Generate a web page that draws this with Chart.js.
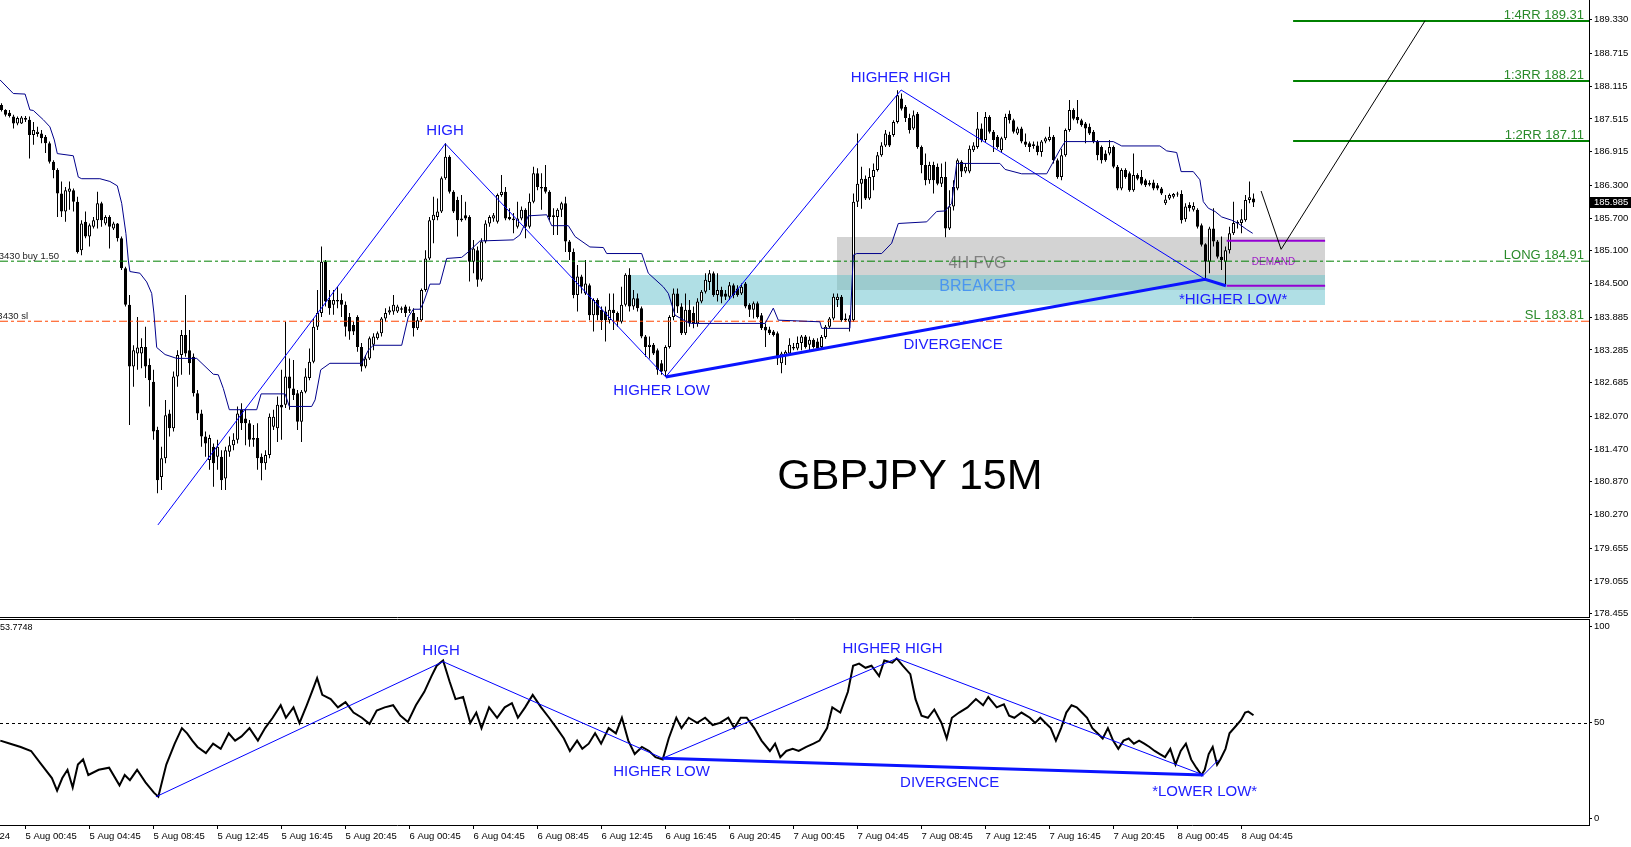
<!DOCTYPE html>
<html>
<head>
<meta charset="utf-8">
<title>GBPJPY 15M</title>
<script src="https://cdn.jsdelivr.net/npm/chart.js@4.4.1/dist/chart.umd.min.js"></script>
<style>
  html, body { margin: 0; padding: 0; background: #fff; overflow: hidden; }
  #wrap { position: relative; width: 1631px; height: 847px; }
  #main { position: absolute; left: 0; top: 0; }
  #osc { position: absolute; left: 0; top: 618px; }
</style>
</head>
<body>
<div id="wrap">
  <canvas id="main" width="1631" height="626"></canvas>
  <canvas id="osc" width="1631" height="229"></canvas>
</div>
<script>
// 15 minute candles, bar 0 = 4 Aug 23:15, one entry per bar
const openP = [
  187.77,187.68,187.63,187.56,187.43,187.43,187.50,187.50,187.22,187.24,
  187.25,187.19,187.07,186.73,186.58,186.15,185.82,186.18,186.21,186.00,
  185.11,185.63,185.36,185.54,185.66,185.97,185.60,185.72,185.51,185.60,
  185.33,184.78,184.11,182.98,183.22,183.22,183.34,183.01,182.70,181.82,
  180.96,181.30,182.12,181.85,182.80,183.19,183.56,183.28,183.16,182.49,
  182.12,181.70,181.27,181.51,181.33,181.33,180.93,181.42,181.54,181.64,
  182.19,182.03,181.94,181.67,181.67,181.33,181.21,181.36,181.88,181.85,
  182.28,182.28,182.80,182.58,182.49,181.97,182.52,182.77,183.07,183.71,
  183.96,184.90,184.20,184.11,184.17,184.20,184.11,183.89,183.74,183.89,
  183.34,182.98,183.13,183.38,183.50,183.59,183.86,183.97,183.99,183.99,
  184.02,184.08,184.03,183.96,183.68,183.83,184.38,184.96,185.66,185.72,
  185.82,186.43,186.82,186.18,186.03,185.66,185.75,185.72,184.90,185.11,
  184.57,185.27,185.60,185.69,185.63,186.12,186.18,185.72,185.69,185.54,
  185.69,185.85,185.54,186.00,186.52,186.27,186.27,186.18,185.72,185.72,
  185.85,185.97,185.27,185.08,184.29,184.63,184.32,184.47,183.92,184.20,
  184.02,183.99,183.83,184.02,183.96,183.80,184.11,184.66,184.08,184.23,
  184.05,183.53,183.34,183.38,183.28,183.04,182.89,183.34,183.89,184.32,
  184.08,183.59,184.02,183.96,183.77,184.17,184.35,184.53,184.69,184.29,
  184.38,184.32,184.26,184.47,184.41,184.32,184.50,184.11,184.02,184.14,
  183.92,183.71,183.66,183.62,183.59,183.04,183.19,183.22,183.34,183.31,
  183.41,183.53,183.38,183.47,183.44,183.34,183.52,183.71,183.86,184.20,
  184.26,183.83,183.80,183.83,186.00,186.33,186.42,186.06,186.45,186.58,
  186.85,187.03,187.22,187.22,187.46,187.89,187.74,187.53,187.34,187.61,
  187.00,186.67,186.39,186.67,186.64,186.33,186.45,185.51,185.91,186.24,
  186.73,186.55,186.55,186.94,187.00,187.34,187.13,187.55,187.28,187.19,
  186.94,187.16,187.61,187.49,187.25,187.34,187.10,187.07,187.05,187.03,
  186.91,187.10,187.13,187.19,186.76,186.45,186.85,187.31,187.68,187.55,
  187.49,187.43,187.37,187.28,187.10,187.00,186.88,186.88,187.00,186.64,
  186.24,186.58,186.52,186.21,186.49,186.45,186.39,186.34,186.35,186.30,
  186.24,185.97,186.06,186.09,186.13,186.14,185.68,185.94,185.85,185.85,
  185.57,185.22,184.90,185.51,185.27,184.99,184.90,185.11,185.42,185.60,
  185.61,185.66,186.03,186.06
];
const highP = [
  187.80,187.69,187.68,187.59,187.56,187.57,187.57,187.56,187.46,187.37,
  187.31,187.22,187.10,186.76,186.61,186.37,186.27,186.37,186.24,186.09,
  185.66,185.82,185.60,185.72,186.18,186.00,185.75,185.75,185.63,185.61,
  185.36,184.81,184.29,183.37,183.89,183.50,183.71,183.13,182.92,181.88,
  181.51,182.37,182.19,182.89,183.28,183.65,184.29,183.65,183.22,182.55,
  182.19,181.79,181.73,181.57,181.64,181.45,181.51,181.70,181.76,182.25,
  182.31,182.19,182.00,181.91,181.94,181.39,181.45,182.12,182.19,182.43,
  182.92,183.80,183.13,183.10,182.55,182.55,182.95,183.31,183.86,184.38,
  185.18,184.93,184.38,184.38,184.44,184.32,184.17,183.96,183.80,183.92,
  183.41,183.19,183.53,183.59,183.62,183.89,184.05,184.08,184.29,184.11,
  184.08,184.11,184.08,184.05,183.89,184.41,185.11,185.72,186.09,186.06,
  186.46,187.07,186.85,186.21,186.09,186.12,186.00,185.75,185.30,185.18,
  185.33,185.66,185.75,185.79,186.15,186.49,186.27,185.88,185.79,186.00,
  185.91,185.88,186.15,186.64,186.61,186.52,186.67,186.21,185.88,185.88,
  186.00,186.09,185.30,185.14,184.84,184.66,184.93,184.50,184.23,184.23,
  184.08,184.08,184.32,184.32,183.99,184.44,184.69,184.78,184.38,184.32,
  184.08,183.56,183.53,183.41,183.31,183.10,183.37,183.92,184.41,184.41,
  184.14,184.32,184.20,184.08,184.23,184.38,184.69,184.75,184.72,184.69,
  184.44,184.38,184.53,184.50,184.47,184.50,184.53,184.14,184.17,184.17,
  183.96,183.77,183.71,183.65,183.62,183.25,183.28,183.50,183.41,183.53,
  183.56,183.56,183.53,183.50,183.50,183.56,183.74,183.89,184.32,184.32,
  184.29,183.95,183.92,186.15,187.25,186.64,186.48,186.61,186.70,186.91,
  187.09,187.31,187.28,187.49,188.04,187.98,187.77,187.61,187.67,187.64,
  187.03,186.88,186.73,186.73,186.70,186.70,186.73,186.21,186.39,186.79,
  186.76,186.70,187.03,187.09,187.64,187.43,187.64,187.58,187.31,187.22,
  187.19,187.61,187.67,187.52,187.37,187.37,187.25,187.10,187.10,187.10,
  187.13,187.19,187.37,187.22,186.79,186.97,187.34,187.86,187.71,187.86,
  187.52,187.46,187.43,187.31,187.13,187.03,186.94,187.13,187.03,186.67,
  186.61,186.61,186.55,186.88,186.52,186.58,186.42,186.39,186.40,186.34,
  186.27,186.12,186.15,186.16,186.18,186.21,185.97,185.99,185.99,185.88,
  185.60,185.24,185.54,185.88,185.30,185.36,185.18,185.54,186.00,185.66,
  185.86,186.12,186.37,186.15
];
const lowP = [
  187.65,187.56,187.54,187.34,187.40,187.42,187.46,186.79,187.04,187.19,
  187.07,186.89,186.70,186.43,185.72,185.72,185.63,185.85,185.82,185.05,
  185.02,185.33,185.18,185.51,185.51,185.54,185.57,185.14,185.48,185.27,
  184.75,184.08,181.91,182.61,182.92,182.95,182.77,182.25,181.64,180.66,
  180.72,181.21,181.70,181.79,182.61,182.83,183.16,182.83,182.43,182.00,
  181.51,181.33,181.09,180.78,181.09,180.72,180.72,181.33,181.45,181.57,
  181.82,181.54,181.51,181.51,181.09,180.90,181.09,181.30,181.82,181.60,
  181.64,182.22,182.19,182.37,181.82,181.60,182.49,182.73,183.04,183.65,
  183.89,184.08,183.93,183.93,184.05,183.89,183.53,183.47,183.56,183.25,
  182.89,182.95,183.10,183.28,183.47,183.53,183.80,183.93,183.93,183.96,
  183.96,183.89,183.96,183.53,183.65,183.80,184.35,184.93,185.24,185.66,
  185.79,186.40,186.15,185.79,185.36,185.63,185.66,184.54,184.69,184.44,
  184.54,185.24,185.54,185.63,185.60,186.09,185.66,185.66,185.42,185.51,
  185.66,185.33,185.51,185.97,186.21,185.85,186.15,185.66,185.39,185.39,
  185.72,185.08,184.93,184.23,183.99,184.32,184.29,183.83,183.62,183.83,
  183.65,183.44,183.77,183.65,183.71,183.77,184.08,183.99,184.02,183.99,
  183.50,183.16,183.13,183.19,182.83,182.83,182.80,183.31,183.83,183.96,
  183.56,183.56,183.71,183.68,183.71,184.14,184.32,184.38,184.26,184.17,
  184.14,184.20,184.20,184.23,184.26,184.29,184.05,183.89,183.86,183.86,
  183.65,183.34,183.56,183.53,183.01,182.86,183.01,183.19,183.28,183.28,
  183.28,183.31,183.28,183.31,183.28,183.31,183.49,183.68,183.83,184.07,
  183.80,183.80,183.62,183.80,185.90,185.87,186.03,186.03,186.21,186.55,
  186.82,187.00,187.00,187.19,187.43,187.67,187.46,187.25,187.31,186.97,
  186.52,186.30,186.33,186.15,186.30,186.27,185.35,185.48,185.84,186.21,
  186.45,186.52,186.52,186.91,186.97,187.09,187.09,187.25,186.91,186.97,
  186.91,187.13,187.43,187.25,187.22,187.07,187.00,186.91,186.97,186.85,
  186.82,187.07,187.10,186.70,186.42,186.39,186.82,187.28,187.49,187.43,
  187.37,187.07,187.22,187.07,186.76,186.70,186.73,186.85,186.61,186.21,
  186.21,186.42,186.18,186.18,186.39,186.30,186.27,186.28,186.21,186.21,
  186.12,185.94,186.03,186.06,186.09,185.60,185.63,185.82,185.82,185.51,
  185.18,184.59,184.69,185.18,184.96,184.75,184.46,185.05,185.39,185.51,
  185.42,185.63,185.97,185.90
];
const closeP = [
  187.68,187.59,187.57,187.43,187.53,187.54,187.53,187.22,187.31,187.28,
  187.16,187.07,186.73,186.58,186.15,185.82,186.21,186.24,186.00,185.08,
  185.60,185.36,185.57,185.66,185.97,185.66,185.72,185.54,185.60,185.33,
  184.78,184.11,182.98,183.28,183.33,183.34,182.98,182.73,181.79,180.90,
  181.30,182.09,181.85,182.80,183.19,183.56,183.22,183.04,182.49,182.12,
  181.70,181.57,181.67,181.21,181.51,180.90,181.45,181.54,181.64,182.12,
  181.94,181.94,181.64,181.64,181.30,181.21,181.36,182.06,182.06,182.28,
  182.23,182.80,182.58,182.46,181.97,182.52,182.80,183.07,183.71,183.96,
  184.90,184.17,184.05,184.20,184.20,184.11,183.71,183.62,183.62,183.34,
  182.98,183.13,183.50,183.53,183.59,183.86,183.96,184.01,184.11,184.08,
  184.05,183.96,184.00,183.68,183.83,184.38,184.96,185.66,185.76,185.82,
  186.43,186.82,186.18,185.82,185.66,185.69,185.69,184.90,185.14,184.57,
  185.27,185.60,185.72,185.75,186.12,186.18,185.69,185.68,185.66,185.69,
  185.85,185.54,186.00,186.52,186.27,186.24,186.18,185.72,185.75,185.85,
  185.97,185.27,185.08,184.29,184.63,184.44,184.50,183.92,184.20,183.92,
  183.83,183.83,184.02,183.96,183.80,184.11,184.66,184.08,184.23,184.05,
  183.53,183.34,183.38,183.22,182.92,182.89,183.34,183.89,184.32,184.08,
  183.59,184.02,183.77,183.77,184.17,184.35,184.57,184.69,184.29,184.38,
  184.26,184.26,184.47,184.29,184.29,184.44,184.08,184.02,184.14,183.89,
  183.68,183.64,183.59,183.56,183.13,183.22,183.25,183.38,183.31,183.41,
  183.53,183.34,183.47,183.34,183.31,183.52,183.71,183.86,184.26,184.26,
  183.83,183.86,183.86,186.00,186.33,186.42,186.06,186.45,186.58,186.85,
  187.03,187.25,187.03,187.46,187.95,187.70,187.53,187.31,187.58,187.00,
  186.67,186.39,186.67,186.39,186.33,186.45,185.51,185.91,186.27,186.76,
  186.55,186.64,186.97,187.03,187.34,187.13,187.55,187.28,187.13,187.00,
  187.16,187.55,187.49,187.28,187.34,187.10,187.04,187.00,187.02,186.91,
  187.10,187.16,187.19,186.76,186.45,186.85,187.31,187.68,187.52,187.49,
  187.40,187.34,187.25,187.10,186.85,186.76,186.76,187.00,186.64,186.24,
  186.58,186.45,186.21,186.49,186.42,186.33,186.30,186.31,186.24,186.24,
  186.15,186.04,186.12,186.14,186.14,185.66,185.91,185.88,185.92,185.54,
  185.21,184.90,185.51,185.27,184.99,184.93,185.11,185.42,185.61,185.63,
  185.68,186.03,186.08,185.985
];

// navy trailing line on the price chart (bar, price)
const stopBars = [
  -0.375,2.95,5.9,7.1,7.95,10.45,12.1,13.2,13.95,17.95,19.2,20.05,24.6,27.1,28.95,30.05,31.1,31.7,32.1,34.6,
  36.3,37.55,38.1,38.8,40.9,43.8,48.8,52.95,54.2,55.45,56.95,63.8,64.9,70.9,71.95,77.55,78.4,79.8,82.1,90.05,
  91.7,92.95,100.05,101.7,102.95,104.6,105.45,107.1,109.6,111.3,115.05,116.7,119.6,127.95,129.6,130.9,131.7,136.3,137.55,141.7,
  143.4,147.1,150.45,151.3,160.05,161.7,165.45,166.7,168.4,171.3,172.55,190.9,192.95,194.2,204.6,205.05,212.1,212.95,213.8,220.05,
  222.55,224.2,231.3,233.8,235.9,237.55,238.8,249.6,250.9,255.05,261.3,262.95,264.6,265.9,277.95,280.05,289.6,291.3,293.8,294.9,
  297.95,299.6,300.45,301.7,303.4,305.05,307.55,309.2,311.3,312.8
];
const stopPrices = [
  188.23,187.98,187.97,187.68,187.67,187.50,187.37,187.13,186.88,186.84,186.45,186.42,186.42,186.37,186.29,185.97,185.42,184.93,184.72,184.69,
  184.53,184.32,183.96,183.33,183.20,183.13,183.13,182.84,182.83,182.58,182.19,182.19,182.48,182.48,182.25,182.25,182.37,182.92,183.04,183.04,
  183.28,183.37,183.37,183.89,184.03,184.03,184.14,184.49,184.49,184.96,184.98,185.08,185.28,185.30,185.39,185.60,185.74,185.76,185.56,185.56,
  185.36,185.17,185.16,185.05,185.05,184.69,184.44,184.32,183.92,183.80,183.77,183.77,184.05,183.83,183.80,183.68,183.68,185.02,185.05,185.05,
  185.24,185.60,185.63,185.82,185.83,185.97,186.70,186.70,186.59,186.51,186.51,186.73,186.95,187.10,187.10,187.02,187.02,186.93,186.90,186.55,
  186.55,186.40,186.00,185.88,185.82,185.72,185.66,185.60,185.49,185.42
];

// hand drawn swing lines on price
const zigBars = [39.1, 110.95, 166.05, 224.9, 300.9];
const zigPrices = [180.08, 187.06, 182.79, 188.045, 184.578];
const divBars = [166.05, 300.9, 306.1];
const divPrices = [182.79, 184.578, 184.46];
const projBars = [314.9, 319.9, 355.9];
const projPrices = [186.195, 185.127, 189.313];

// zones and trade levels
const fvgBars = [208.9, 330.9];
const fvgPrices = [185.353, 184.382];
const breakerBars = [157.1, 330.9];
const breakerPrices = [184.657, 184.107];
const demandBars = [306.3, 330.9];
const demandPrices = [185.285, 184.461];
const rrNames = ['1:4RR 189.31', '1:3RR 188.21', '1:2RR 187.11'];
const rrPrices = [189.31, 188.21, 187.11];
const rrStartBar = 322.9;
const longPrice = 184.91;
const slPrice = 183.81;
const lastPrice = 185.985;

const priceTicks = [189.330,188.715,188.115,187.515,186.915,186.300,185.700,185.100,184.500,183.885,
                    183.285,182.685,182.070,181.470,180.870,180.270,179.655,179.055,178.455];

// labels on the price chart: text, bar, price
const priceNotes = [
  ['HIGH', 110.9, 187.29],
  ['HIGHER LOW', 165, 182.53],
  ['HIGHER HIGH', 224.8, 188.26],
  ['DIVERGENCE', 237.9, 183.38],
  ['*HIGHER LOW*', 307.9, 184.20]
];
// zone captions: text, bar, price
const zoneNotes = [
  ['4H FVG', 244, 184.86],
  ['BREAKER', 244, 184.44],
  ['DEMAND', 318, 184.89]
];

// RSI line (bar, value)
const rsiBars = [
  -0.3,2.2,4.8,7.4,10.0,12.6,13.9,15.2,16.5,17.8,19.1,20.4,21.7,24.3,26.9,29.5,30.8,32.1,33.9,36.0,
  38.1,39.2,41.2,43.3,45.1,46.4,47.7,49.0,51.1,52.9,54.8,56.8,58.4,60.0,62.0,64.1,65.9,67.8,69.8,71.1,
  73.0,74.5,76.3,77.6,78.9,80.2,82.3,84.1,86.0,88.0,90.1,92.0,93.8,95.8,97.9,99.7,101.6,103.6,105.7,107.5,
  108.8,110.4,112.0,113.5,115.4,117.2,118.7,120.0,121.9,123.9,125.8,127.6,129.1,130.9,132.8,134.9,136.9,138.8,140.6,142.1,
  143.9,145.2,146.8,148.4,149.9,151.8,153.6,155.1,156.7,158.3,160.1,161.9,163.5,165.3,166.8,168.7,170.0,171.8,173.9,175.9,
  177.8,179.6,181.7,183.2,184.8,186.3,188.2,190.0,192.1,193.4,194.7,196.2,197.8,199.3,201.2,203.0,204.5,206.4,207.7,209.7,
  211.6,212.9,214.4,216.0,217.5,219.4,220.7,222.7,223.8,225.3,227.2,228.5,230.0,231.6,233.2,235.0,236.3,237.6,239.4,241.5,
  243.6,245.4,246.7,248.8,250.6,251.9,253.2,255.0,257.1,258.4,259.7,261.0,262.3,263.6,264.9,266.2,267.5,268.8,270.1,271.4,
  272.7,274.0,275.3,276.6,277.9,279.2,280.5,281.8,283.1,284.4,285.7,287.0,288.3,289.6,290.9,292.2,293.5,294.8,296.1,297.4,
  298.7,300.0,300.8,301.8,302.8,303.9,304.7,306.0,307.0,308.6,309.9,310.9,311.7,313.0
];
const rsiVals = [
  40.6,39.0,37.3,35.2,28.1,21.1,14.6,21.1,25.4,16.2,28.1,30.8,22.7,25.4,26.5,17.3,22.7,20.0,25.4,18.9,
  13.5,11.4,28.1,39.0,47.1,44.4,40.6,37.3,34.1,39.0,36.3,44.4,40.6,42.8,47.1,40.6,47.1,52.5,59.0,52.5,
  57.9,49.8,59.0,66.0,73.1,64.4,62.2,57.9,60.6,55.2,52.5,49.3,56.3,57.9,59.0,53.6,50.3,59.0,66.0,74.2,
  79.6,82.3,71.5,62.2,63.3,49.8,55.2,47.1,57.9,52.5,57.9,60.1,52.5,57.9,64.4,57.9,52.5,47.1,41.7,35.2,
  40.6,36.3,39.0,44.4,39.0,47.1,44.4,52.5,40.6,33.6,37.3,35.2,32.0,30.8,41.7,52.5,47.1,52.5,49.8,52.5,
  48.7,49.8,52.5,47.1,52.5,52.5,47.1,40.6,35.2,39.0,32.0,35.2,36.3,35.2,37.3,39.0,40.6,47.1,57.9,55.2,
  66.0,79.6,80.7,78.5,79.6,74.2,82.3,81.2,83.4,79.6,75.2,62.2,53.6,52.5,56.8,49.8,41.7,52.5,55.2,57.9,
  62.2,59.0,63.3,57.9,59.5,53.6,52.5,55.2,52.5,49.8,52.5,49.8,47.1,40.6,47.1,55.2,59.0,57.9,55.2,52.5,
  47.1,44.4,41.7,47.1,40.6,36.3,40.6,41.7,39.0,40.6,39.0,37.3,35.2,33.6,32.0,36.3,28.1,35.2,39.0,30.8,
  26.5,22.7,25.4,33.6,37.3,28.1,30.8,36.3,44.4,48.2,51.4,55.2,55.7,53.7748
];
const rsiZigBars = [38.6, 110.4, 165.3, 223.8, 300.5];
const rsiZigVals = [11.35, 81.7, 31.4, 83.4, 22.7];
const rsiDivBars = [165.3, 300.5];
const rsiDivVals = [31.4, 22.7];
const rsiTailBars = [300.5, 304.3];
const rsiTailVals = [22.7, 30.7];
const rsiNotes = [
  ['HIGH', 109.9, 87.2],
  ['HIGHER HIGH', 222.75, 88.3],
  ['HIGHER LOW', 165, 24.3],
  ['DIVERGENCE', 237.05, 18.5],
  ['*LOWER LOW*', 300.8, 14.1]
];

// time axis, one label every 16 bars starting at 4 Aug 20:45
const timeLabels = ['4 Aug 2024','5 Aug 00:45','5 Aug 04:45','5 Aug 08:45','5 Aug 12:45','5 Aug 16:45',
  '5 Aug 20:45','6 Aug 00:45','6 Aug 04:45','6 Aug 08:45','6 Aug 12:45','6 Aug 16:45','6 Aug 20:45',
  '7 Aug 00:45','7 Aug 04:45','7 Aug 08:45','7 Aug 12:45','7 Aug 16:45','7 Aug 20:45','8 Aug 00:45','8 Aug 04:45'];
const firstTickBar = -10;
const barsPerTick = 16;

const X_MIN = -0.375, X_MAX = 396.875;
const PRICE_MAX = 189.6926, PRICE_MIN = 178.3943;
const RSI_MAX = 103.904, RSI_MIN = -3.332;
const FONT = '"Liberation Sans", Arial, sans-serif';
const BLUE_TEXT = '#2020ff';

function pts(xs, ys) {
  return xs.map((x, i) => ({x: x, y: ys[i]}));
}

function lineSet(xs, ys, color, width, dash) {
  return {
    type: 'line', data: pts(xs, ys), borderColor: color, borderWidth: width,
    borderDash: dash || [], pointRadius: 0, tension: 0, fill: false, order: 1
  };
}

const wickData = openP.map((o, i) => ({x: i, y: [lowP[i], highP[i]]}));
const bodyData = openP.map((o, i) => ({x: i, y: [Math.min(o, closeP[i]), Math.max(o, closeP[i])]}));
const bodyColors = openP.map((o, i) => closeP[i] >= o ? '#ffffff' : '#000000');

function noPad(s) {
  s.paddingTop = 0; s.paddingBottom = 0; s.paddingLeft = 0; s.paddingRight = 0;
}

// zones, texts and frame of the price panel
const mainDeco = {
  id: 'mainDeco',
  beforeDatasetsDraw(chart) {
    const {ctx, chartArea: a, scales: {x, y}} = chart;
    ctx.save();
    ctx.beginPath(); ctx.rect(a.left, a.top, a.width, a.height); ctx.clip();
    const box = (bars, prices, color) => {
      const x0 = Math.round(x.getPixelForValue(bars[0])), x1 = Math.round(x.getPixelForValue(bars[1]));
      const y0 = Math.round(y.getPixelForValue(prices[0])), y1 = Math.round(y.getPixelForValue(prices[1]));
      ctx.fillStyle = color;
      ctx.fillRect(x0, y0, x1 - x0, y1 - y0);
    };
    box(breakerBars, breakerPrices, '#b0dfe5');
    box(fvgBars, fvgPrices, '#d3d3d3');
    box(fvgBars, [breakerPrices[0], fvgPrices[1]], '#9ccbce');

    ctx.textAlign = 'center';
    ctx.textBaseline = 'middle';
    const styles = [['16px ', '#808080'], ['16px ', '#4a96f0'], ['10px ', '#a020c8']];
    zoneNotes.forEach((n, i) => {
      ctx.font = styles[i][0] + FONT;
      ctx.fillStyle = styles[i][1];
      ctx.fillText(n[0], x.getPixelForValue(n[1]), y.getPixelForValue(n[2]));
    });
    ctx.restore();
  },
  afterDatasetsDraw(chart) {
    const {ctx, chartArea: a, scales: {x, y}} = chart;
    ctx.save();
    ctx.textAlign = 'center';
    ctx.textBaseline = 'middle';
    ctx.font = '15px ' + FONT;
    ctx.fillStyle = BLUE_TEXT;
    priceNotes.forEach(n => ctx.fillText(n[0], x.getPixelForValue(n[1]), y.getPixelForValue(n[2])));

    ctx.font = '43px ' + FONT;
    ctx.fillStyle = '#000';
    ctx.fillText('GBPJPY 15M', x.getPixelForValue(227.1), y.getPixelForValue(180.95));

    // right side level labels
    ctx.textAlign = 'right';
    ctx.textBaseline = 'alphabetic';
    ctx.font = '13px ' + FONT;
    ctx.fillStyle = '#2a8a2a';
    const rx = a.right - 5;
    rrNames.forEach((t, i) => ctx.fillText(t, rx, y.getPixelForValue(rrPrices[i]) - 2));
    ctx.fillText('LONG ' + longPrice.toFixed(2), rx, y.getPixelForValue(longPrice) - 2);
    ctx.fillText('SL ' + slPrice.toFixed(2), rx, y.getPixelForValue(slPrice) - 2);

    // order labels at the left edge, ticket number runs off the chart
    ctx.font = '9.5px ' + FONT;
    ctx.fillStyle = '#222';
    ctx.fillText('3430 buy 1.50', a.left + 59, y.getPixelForValue(longPrice) - 2);
    ctx.fillText('3430 sl', a.left + 28, y.getPixelForValue(slPrice) - 2);
    ctx.restore();
  },
  afterDraw(chart) {
    const {ctx, chartArea: a, scales: {y}} = chart;
    ctx.save();
    ctx.strokeStyle = '#000';
    ctx.lineWidth = 1;
    ctx.beginPath();
    ctx.moveTo(0, a.bottom + 0.5); ctx.lineTo(a.right + 1, a.bottom + 0.5);
    ctx.stroke();
    // current price tag
    const py = Math.round(y.getPixelForValue(lastPrice));
    ctx.fillStyle = '#000';
    ctx.fillRect(a.right + 1, py - 5, chart.width - a.right - 1, 11);
    ctx.fillStyle = '#fff';
    ctx.font = '9.5px ' + FONT;
    ctx.textAlign = 'left';
    ctx.textBaseline = 'middle';
    ctx.fillText(lastPrice.toFixed(3), a.right + 5, py + 0.5);
    ctx.restore();
  }
};

new Chart(document.getElementById('main'), {
  type: 'bar',
  data: {
    datasets: [
      {type: 'bar', data: wickData, backgroundColor: '#000', borderWidth: 0, barThickness: 1,
       grouped: false, inflateAmount: 0, order: 3},
      {type: 'bar', data: bodyData, backgroundColor: bodyColors, borderColor: '#000', borderWidth: 1,
       borderSkipped: false, barThickness: 3, minBarLength: 1, grouped: false, inflateAmount: 0, order: 2},
      lineSet(stopBars, stopPrices, '#00008b', 1),
      lineSet(zigBars, zigPrices, '#0000ff', 1),
      lineSet(divBars, divPrices, '#0a14ff', 3),
      lineSet(projBars, projPrices, '#000000', 1),
      lineSet([X_MIN, X_MAX], [longPrice, longPrice], '#008000', 1, [8, 3, 3, 3]),
      lineSet([X_MIN, X_MAX], [slPrice, slPrice], '#ff4500', 1, [8, 3, 3, 3]),
      lineSet([rrStartBar, X_MAX], [rrPrices[0], rrPrices[0]], '#008000', 2),
      lineSet([rrStartBar, X_MAX], [rrPrices[1], rrPrices[1]], '#008000', 2),
      lineSet([rrStartBar, X_MAX], [rrPrices[2], rrPrices[2]], '#008000', 2),
      lineSet(demandBars, [demandPrices[0], demandPrices[0]], '#9400d3', 2),
      lineSet(demandBars, [demandPrices[1], demandPrices[1]], '#9400d3', 2)
    ]
  },
  options: {
    responsive: false,
    animation: false,
    events: [],
    layout: {padding: {left: 0, right: 0, top: 0, bottom: 9}},
    plugins: {legend: {display: false}, tooltip: {enabled: false}},
    scales: {
      x: {type: 'linear', display: false, min: X_MIN, max: X_MAX, offset: false, grid: {offset: false}},
      y: {
        position: 'right', min: PRICE_MIN, max: PRICE_MAX,
        afterFit: s => { s.width = 42; noPad(s); },
        afterBuildTicks: s => { s.ticks = priceTicks.map(v => ({value: v})); },
        ticks: {autoSkip: false, padding: 2, color: '#000', font: {family: FONT, size: 9.5},
                callback: v => Number(v).toFixed(3)},
        grid: {drawOnChartArea: false, drawTicks: true, tickLength: 3, color: '#000'},
        border: {display: true, color: '#000'}
      }
    }
  },
  plugins: [mainDeco]
});

// RSI panel decorations
const oscDeco = {
  id: 'oscDeco',
  beforeDatasetsDraw(chart) {
    const {ctx, chartArea: a, scales: {y}} = chart;
    ctx.save();
    ctx.strokeStyle = '#000';
    ctx.lineWidth = 1;
    ctx.setLineDash([3, 3]);
    const y50 = Math.round(y.getPixelForValue(50)) + 0.5;
    ctx.beginPath(); ctx.moveTo(a.left, y50); ctx.lineTo(a.right, y50); ctx.stroke();
    ctx.restore();
  },
  afterDatasetsDraw(chart) {
    const {ctx, chartArea: a, scales: {x, y}} = chart;
    ctx.save();
    ctx.textAlign = 'center';
    ctx.textBaseline = 'middle';
    ctx.font = '15px ' + FONT;
    ctx.fillStyle = BLUE_TEXT;
    rsiNotes.forEach(n => ctx.fillText(n[0], x.getPixelForValue(n[1]), y.getPixelForValue(n[2])));
    ctx.font = '9px ' + FONT;
    ctx.fillStyle = '#000';
    ctx.textAlign = 'left';
    ctx.fillText(rsiVals[rsiVals.length - 1].toFixed(4), 0, a.top + 9);
    ctx.strokeStyle = '#000';
    ctx.lineWidth = 1;
    ctx.beginPath(); ctx.moveTo(0, a.top + 0.5); ctx.lineTo(a.right, a.top + 0.5); ctx.stroke();
    ctx.restore();
  }
};

new Chart(document.getElementById('osc'), {
  type: 'line',
  data: {
    datasets: [
      {data: pts(rsiBars, rsiVals), borderColor: '#000', borderWidth: 2, pointRadius: 0, tension: 0, fill: false, order: 2},
      lineSet(rsiZigBars, rsiZigVals, '#0000ff', 1),
      lineSet(rsiDivBars, rsiDivVals, '#0a14ff', 3),
      lineSet(rsiTailBars, rsiTailVals, '#0000ff', 1)
    ]
  },
  options: {
    responsive: false,
    animation: false,
    events: [],
    layout: {padding: {left: 0, right: 0, top: 1, bottom: 0}},
    plugins: {legend: {display: false}, tooltip: {enabled: false}},
    scales: {
      x: {
        type: 'linear', min: X_MIN, max: X_MAX, offset: false,
        afterFit: s => { s.height = 22; noPad(s); },
        afterBuildTicks: s => { s.ticks = timeLabels.map((t, i) => ({value: firstTickBar + i * barsPerTick})); },
        ticks: {autoSkip: false, maxRotation: 0, align: 'start', padding: 2, color: '#000',
                font: {family: FONT, size: 9.5}, callback: (v, i) => timeLabels[i]},
        grid: {drawOnChartArea: false, drawTicks: true, tickLength: 4, color: '#000', offset: false},
        border: {display: true, color: '#000'}
      },
      y: {
        position: 'right', min: RSI_MIN, max: RSI_MAX,
        afterFit: s => { s.width = 42; noPad(s); },
        afterBuildTicks: s => { s.ticks = [{value: 100}, {value: 50}, {value: 0}]; },
        ticks: {autoSkip: false, padding: 2, color: '#000', font: {family: FONT, size: 9.5}},
        grid: {drawOnChartArea: false, drawTicks: true, tickLength: 3, color: '#000'},
        border: {display: true, color: '#000'}
      }
    }
  },
  plugins: [oscDeco]
});
</script>
</body>
</html>
